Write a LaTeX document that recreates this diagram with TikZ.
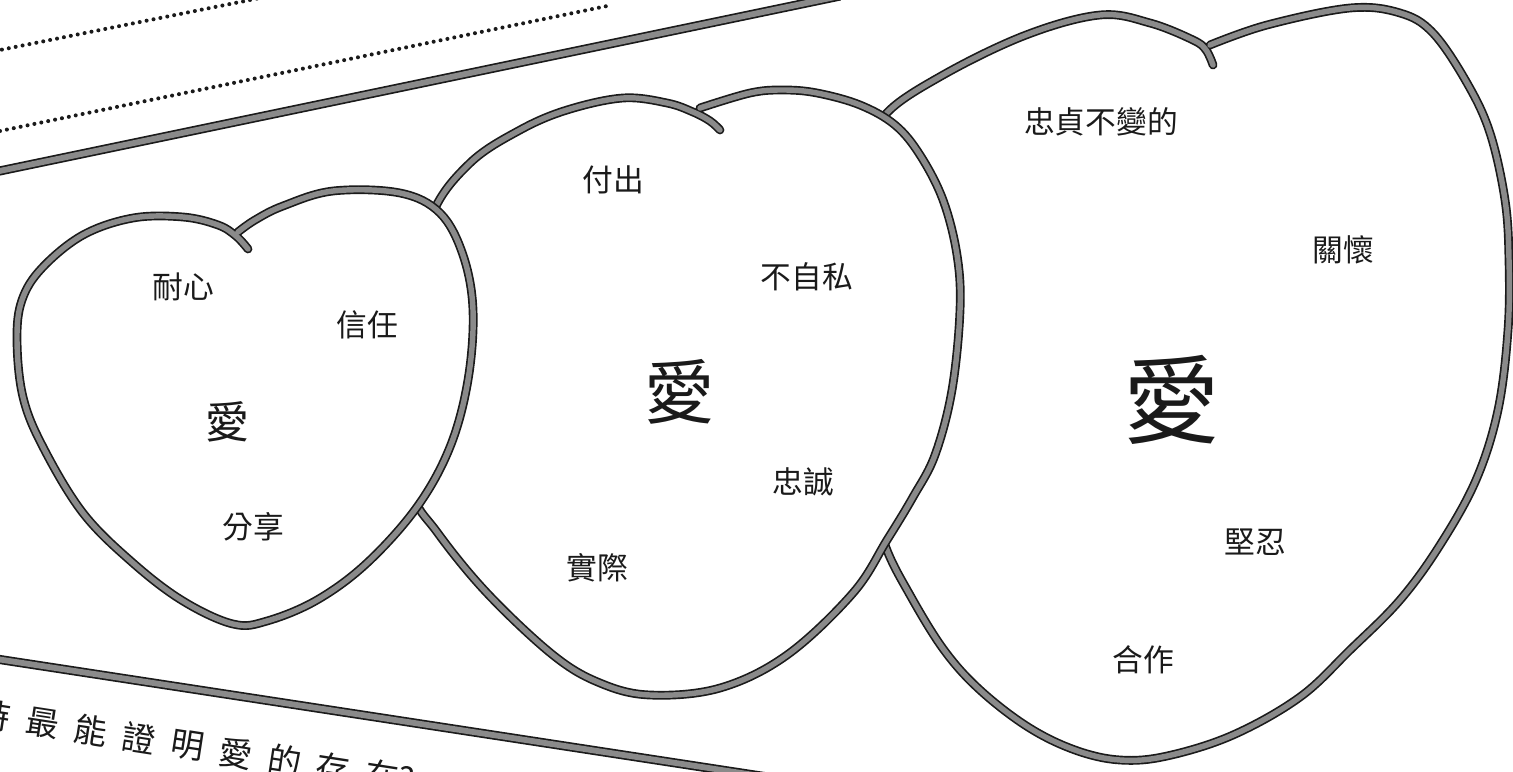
\documentclass[tikz,border=0pt]{standalone}
\usepackage{fontspec}
\newfontfamily\cjk{Noto Sans CJK TC}
\definecolor{ink}{HTML}{1A1A1A}
\definecolor{scan}{HTML}{8A8A8A}
\tikzset{
  outline/.style={
    draw=ink,
    double=scan,
    double distance=3.1pt,
    line width=0.95pt,
    line cap=round,
    line join=round
  },
  rule/.style={
    draw=ink,
    double=scan,
    double distance=3.3pt,
    line width=0.95pt
  },
  dots/.style={
    draw=ink,
    line width=2.3pt,
    line cap=round,
    dash pattern=on 0pt off 4pt
  },
  word/.style={
    text=ink,
    font=\cjk\fontsize{17.5}{18}\selectfont,
    inner sep=0pt
  },
  love/.style={
    text=ink,
    inner sep=0pt
  },
  question/.style={
    text=ink,
    font=\cjk\fontsize{19}{20}\selectfont,
    inner sep=0pt,
    anchor=west,
    rotate=-8.8
  }
}

\begin{document}
\begin{tikzpicture}[x=0.02cm,y=-0.02cm]
  % Page frame (pixel grid of the scan)
  \useasboundingbox (0,0) rectangle (1513,771);
  \fill[white] (0,0) rectangle (1513,771);
  \clip (0,0) rectangle (1513,771);

  % Writing lines at the top
  \draw[dots] (-5,51) -- (270,-4);
  \draw[dots] (0,131) -- (612,5);
  \draw[rule] (-10,173) -- (840,-4);

  % Back heart
  \filldraw[outline, fill=white] plot[smooth, tension=0.6] coordinates {
    (1210,45) (1267,25) (1350,8) (1400,13) (1433,33) (1467,83) (1490,133)
    (1505,200) (1509,260) (1508,330) (1498,410) (1476,480) (1440,545)
    (1400,600) (1350,650) (1300,697) (1233,735) (1167,756) (1120,760)
    (1075,750) (1028,727) (980,690) (944,650) (910,595) (885,545)
    (868,480) (885,300) (870,160) (885,115) (943,75) (1026,35) (1100,15)
    (1150,23) (1193,40) (1206,50) (1213,65)};

  % Middle heart
  \filldraw[outline, fill=white] plot[smooth, tension=0.6] coordinates {
    (700,108) (750,93) (783,90) (817,93) (860,105) (895,125) (920,155)
    (943,200) (957,255) (960,310) (952,390) (935,455) (913,497) (887,540)
    (853,593) (787,655) (720,688) (650,695) (600,683) (553,655) (487,593)
    (437,532) (412,490) (405,400) (415,300) (432,215) (470,163) (520,130)
    (567,110) (623,98) (667,103) (693,112) (710,121) (720,130)};

  % Front heart
  \filldraw[outline, fill=white] plot[smooth, tension=0.6] coordinates {
    (238,232) (255,220) (283,206) (333,191) (400,193) (440,213) (463,255)
    (473,310) (468,380) (450,447) (417,507) (367,563) (317,600) (267,621)
    (233,624) (183,601) (133,563) (83,513) (43,447) (23,397) (17,340)
    (22,300) (42,268) (83,235) (133,218) (183,217) (218,225) (236,236)
    (248,249)};

  % Front heart words
  \node[word] (patience) at (183,287) {耐心};
  \node[word] (trust) at (367,325) {信任};
  \node[love, font=\cjk\fontsize{25}{26}\selectfont] (love1) at (227,422) {愛};
  \node[word] (sharing) at (253,527) {分享};

  % Middle heart words
  \node[word] (giving) at (613,180) {付出};
  \node[word] (unselfish) at (807,277) {不自私};
  \node[love, font=\cjk\fontsize{40}{42}\selectfont] (love2) at (680,392) {愛};
  \node[word] (loyalty) at (803,482) {忠誠};
  \node[word] (practical) at (597,568) {實際};

  % Back heart words
  \node[word] (faithful) at (1101,122) {忠貞不變的};
  \node[word] (caring) at (1343,250) {關懷};
  \node[love, font=\cjk\fontsize{55}{58}\selectfont] (love3) at (1172,400) {愛};
  \node[word] (endurance) at (1255,542) {堅忍};
  \node[word] (teamwork) at (1143,660) {合作};

  % Lower rule and question
  \draw[rule] (-10,658) -- (800,782);
  \foreach \ch [count=\i from 0] in {時,最,能,證,明,愛,的,存,在?} {
    \node[question] (q\i) at (-23+48.5*\i,713+7.5*\i) {\ch};
  }
\end{tikzpicture}
\end{document}
